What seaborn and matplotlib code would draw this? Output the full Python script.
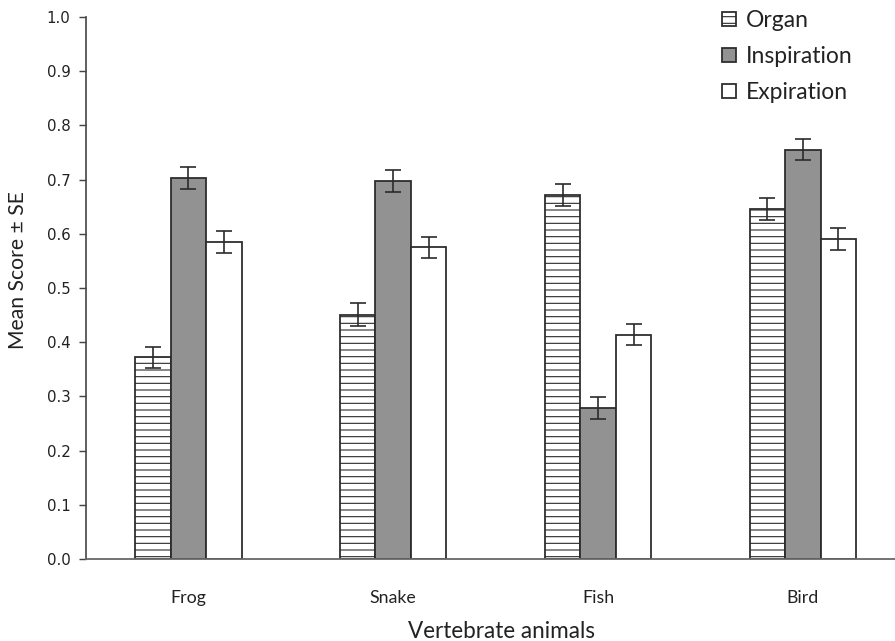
import numpy as np
import pandas as pd
import matplotlib
matplotlib.use("Agg")
import matplotlib.pyplot as plt
import seaborn as sns

# Mean scores (± SE) by vertebrate group and concept
animals = ["Frog", "Snake", "Fish", "Bird"]
concepts = ["Organ", "Inspiration", "Expiration"]
organ_mean = [0.372, 0.451, 0.672, 0.646]
inspiration_mean = [0.703, 0.697, 0.278, 0.755]
expiration_mean = [0.585, 0.575, 0.414, 0.590]
organ_se = [0.020, 0.021, 0.020, 0.020]
inspiration_se = [0.020, 0.020, 0.020, 0.019]
expiration_se = [0.021, 0.020, 0.020, 0.020]
y_ticks = [0.0, 0.1, 0.2, 0.3, 0.4, 0.5, 0.6, 0.7, 0.8, 0.9, 1.0]

means = [organ_mean, inspiration_mean, expiration_mean]
ses = [organ_se, inspiration_se, expiration_se]
df = pd.DataFrame({
    "animal": np.repeat([animals], 3, axis=0).ravel(),
    "concept": np.repeat(concepts, len(animals)),
    "score": np.concatenate(means),
})

sns.set_theme(style="white")
plt.rcParams["font.family"] = ["Lato", "DejaVu Sans"]
plt.rcParams["hatch.linewidth"] = 1.0
plt.rcParams["hatch.color"] = "#5a5a5a"

DPI = 80
W, H = 895, 641
fig = plt.figure(figsize=(W / DPI, H / DPI), dpi=DPI)
ax = fig.add_axes([86 / W, 1 - 559 / H, 1 - 86 / W, (559 - 17) / H])

ink = "#2b2b2b"
fills = {"Organ": "white", "Inspiration": "#929292", "Expiration": "white"}
sns.barplot(data=df, x="animal", y="score", hue="concept", order=animals,
            hue_order=concepts, palette=fills, errorbar=None, width=0.52,
            gap=0, edgecolor=ink, linewidth=1.6, saturation=1, ax=ax,
            legend=False)

for cont, se in zip(ax.containers, ses):
    xs = [p.get_x() + p.get_width() / 2 for p in cont]
    hs = [p.get_height() for p in cont]
    ax.errorbar(xs, hs, yerr=se, fmt="none", ecolor=ink, elinewidth=1.5,
                capsize=7, capthick=1.5, zorder=4)

for p in ax.containers[0]:
    p.set_hatch("--")
    if hasattr(p, "set_hatchcolor"):
        p.set_hatchcolor("#5a5a5a")

ax.set_xlim(-0.5, 3.45)
ax.set_ylim(0, 1.0)
ax.set_yticks(y_ticks)
ax.set_yticklabels([f"{t:.1f}" for t in y_ticks], family="DejaVu Sans",
                   fontsize=13.5, color="#222222")
ax.tick_params(axis="y", left=True, length=6, width=1.3, color="#444444",
               pad=8)
ax.tick_params(axis="x", bottom=False, labelsize=16, labelcolor="#222222",
               pad=22)

for s in ["top", "right"]:
    ax.spines[s].set_visible(False)
ax.spines["left"].set_color("#444444")
ax.spines["left"].set_linewidth(1.5)
ax.spines["bottom"].set_color("#666666")
ax.spines["bottom"].set_linewidth(1.6)

ax.set_xlabel("Vertebrate animals", fontsize=20.3, color="#222222")
ax.set_ylabel("Mean Score ± SE", fontsize=19, color="#222222")
# axis titles positioned in axes fractions
ax.xaxis.set_label_coords((502 - 86) / (W - 86), -(641 + 1 - 559) / (559 - 17))
ax.xaxis.label.set_va("bottom")
ax.yaxis.set_label_coords(-(86 - 8) / (W - 86), (559 - 270) / (559 - 17))
ax.yaxis.label.set_va("top")

handles = [ax.containers[i][0] for i in range(3)]
leg = fig.legend(handles, concepts, loc="upper left",
                 bbox_to_anchor=(722 / W, 1 - 10 / H), frameon=False,
                 fontsize=20.6, handlelength=0.6, handleheight=0.6,
                 handletextpad=0.45, labelspacing=0.66, borderpad=0,
                 borderaxespad=0, labelcolor="#222222")

fig.savefig("out.png", dpi=DPI)
